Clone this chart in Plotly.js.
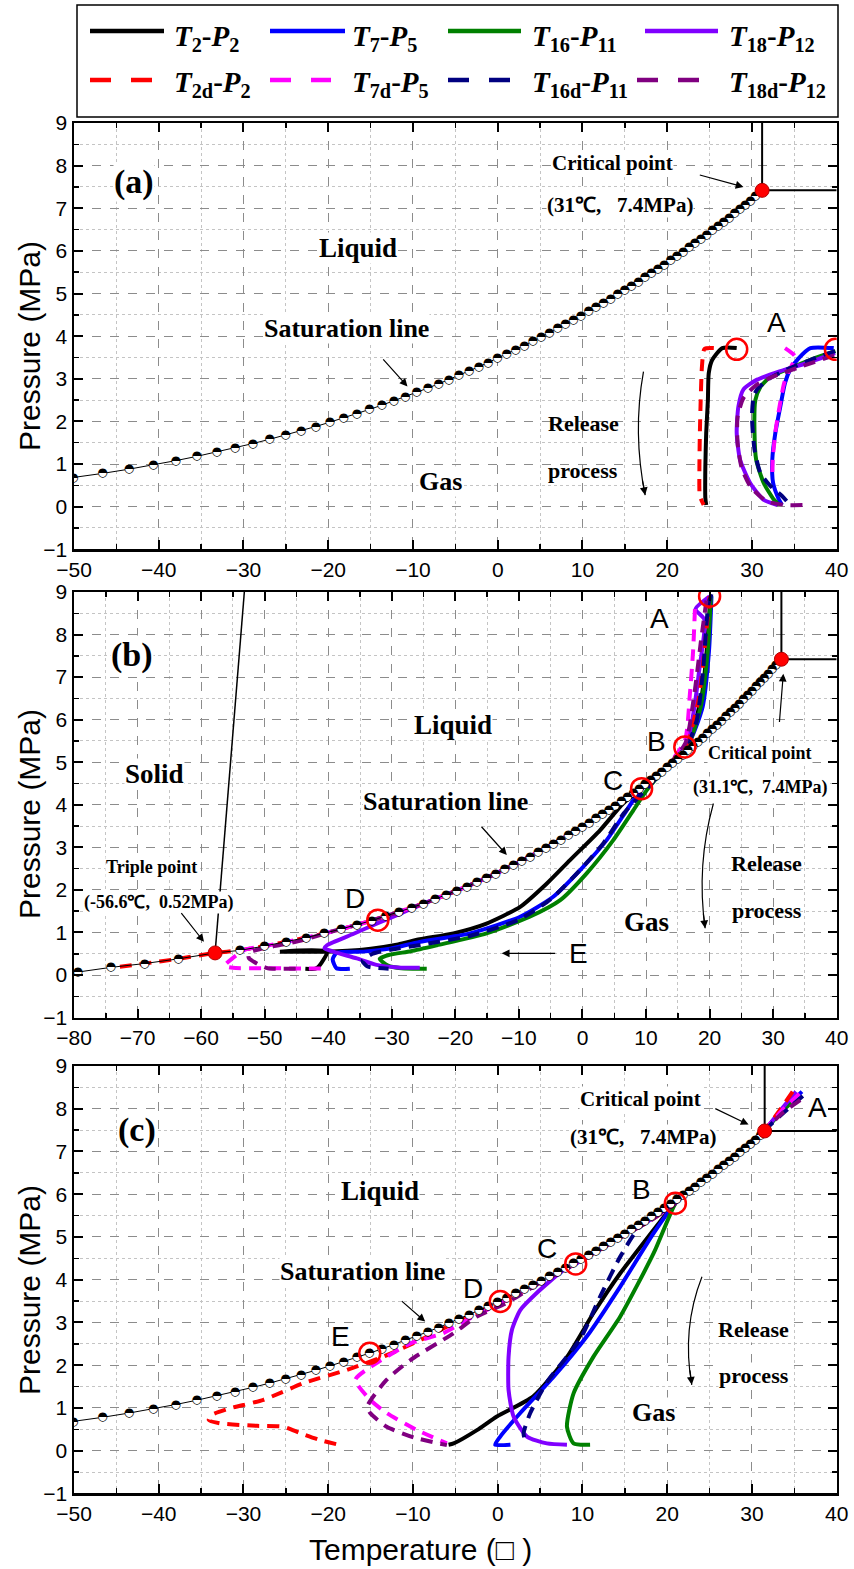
<!DOCTYPE html>
<html><head><meta charset="utf-8">
<script src="https://cdn.plot.ly/plotly-3.0.1.min.js"></script>
<style>html,body{margin:0;padding:0;background:#fff}#chart{width:854px;height:1569px}</style>
</head><body><div id="chart"></div>
<script>
// ---------------- DATA ----------------
const seriesNames = ['T2-P2','T7-P5','T16-P11','T18-P12','T2d-P2','T7d-P5','T16d-P11','T18d-P12'];
const seriesLabels = [
 '<b><i>T</i><sub>2</sub>-<i>P</i><sub>2</sub></b>',
 '<b><i>T</i><sub>7</sub>-<i>P</i><sub>5</sub></b>',
 '<b><i>T</i><sub>16</sub>-<i>P</i><sub>11</sub></b>',
 '<b><i>T</i><sub>18</sub>-<i>P</i><sub>12</sub></b>',
 '<b><i>T</i><sub>2d</sub>-<i>P</i><sub>2</sub></b>',
 '<b><i>T</i><sub>7d</sub>-<i>P</i><sub>5</sub></b>',
 '<b><i>T</i><sub>16d</sub>-<i>P</i><sub>11</sub></b>',
 '<b><i>T</i><sub>18d</sub>-<i>P</i><sub>12</sub></b>'];
const seriesColors = ['#000000','#0000ff','#008000','#8000ff','#ff0000','#ff00ff','#000080','#800080'];
const seriesDashed = [false,false,false,false,true,true,true,true];

// saturation line (markers every 0.1 MPa)
const satP = [0.58,0.68,0.78,0.88,0.98,1.08,1.18,1.28,1.38,1.48,1.58,1.68,1.78,1.88,1.98,2.08,2.18,2.28,2.38,2.48,2.58,2.68,2.78,2.88,2.98,3.08,3.18,3.28,3.38,3.48,3.58,3.68,3.78,3.88,3.98,4.08,4.18,4.28,4.38,4.48,4.58,4.68,4.78,4.88,4.98,5.08,5.18,5.28,5.38,5.48,5.58,5.68,5.78,5.88,5.98,6.08,6.18,6.28,6.38,6.48,6.58,6.68,6.78,6.88,6.98,7.08,7.18,7.28,7.38];
const satT = [-53.91,-50.08,-46.63,-43.51,-40.65,-37.98,-35.51,-33.17,-30.99,-28.91,-26.92,-25.05,-23.21,-21.48,-19.83,-18.20,-16.65,-15.15,-13.68,-12.27,-10.91,-9.58,-8.27,-7.00,-5.78,-4.59,-3.40,-2.25,-1.14,-0.06,1.03,2.09,3.12,4.13,5.10,6.09,7.05,7.98,8.90,9.80,10.70,11.58,12.45,13.30,14.13,14.95,15.76,16.57,17.35,18.13,18.89,19.63,20.38,21.12,21.85,22.56,23.26,23.95,24.63,25.31,25.98,26.64,27.29,27.93,28.57,29.19,29.80,30.40,31.0];
// sublimation line (panel b)
const subT = [-79.4,-74.2,-68.9,-63.6];
const subP = [0.07,0.18,0.27,0.38];
// triple point & melting line (panel b)
const tripleT = -57.8, tripleP = 0.52;
const meltT = [-57.8,-53.2];
const meltP = [0.52,9.0];
// critical points as drawn in each panel
const critA = [31.2,7.42], critB = [31.3,7.42], critC = [31.5,7.48];

// red circles
const circA_T = [28.2,39.85], circA_P = [3.69,3.69];
const circB_T = [20.0,16.1,9.3,-32.2], circB_P = [8.9,5.36,4.38,1.29];
const circC_T = [20.96,9.2,0.3,-15.1], circC_P = [5.79,4.37,3.49,2.28];

// ---- panel (a) ----
const a_T2_x=[28.2,26.5,25.3,24.9,24.8,24.6,24.5,24.5,24.6];
const a_T2_y=[3.72,3.72,3.44,3.13,2.5,1.72,0.94,0.2,0.04];
const a_T7_x=[39.65,36.9,35.5,34.5,33.9,33.35,32.76,32.4,32.5,33.2,33.55];
const a_T7_y=[3.72,3.72,3.48,3.21,2.9,2.35,1.73,1.10,0.55,0.16,0.04];
const a_T16_x=[39.85,37.3,34.9,32.2,31.0,30.4,30.3,30.5,31.4,32.6,33.2];
const a_T16_y=[3.65,3.48,3.28,3.05,2.81,2.5,1.73,1.10,0.55,0.16,0.04];
const a_T18_x=[39.8,36.5,33.35,30.6,29.0,28.4,28.2,28.6,29.8,31.4,33.0];
const a_T18_y=[3.6,3.37,3.18,2.98,2.75,2.35,1.73,1.10,0.55,0.16,0.04];
const a_T2d_x=[25.5,24.4,24.1,23.95,23.85,23.8,23.85,24.3];
const a_T2d_y=[3.72,3.70,3.29,2.5,1.7,0.9,0.25,0.04];
const a_T7d_x=[33.9,35.1,34.4,33.8,33.3,32.8,32.45,32.4];
const a_T7d_y=[3.72,3.52,3.2,2.9,2.4,1.8,1.1,0.7];
const a_T16d_x=[39.8,37.0,34.5,32.0,30.6,30.2,30.0,30.3,31.0,32.2,33.55,34.5];
const a_T16d_y=[3.65,3.45,3.25,3.0,2.75,2.58,2.12,1.34,0.79,0.48,0.25,0.04];
const a_T18d_x=[39.7,36.0,32.5,30.5,29.0,28.3,28.3,28.8,29.9,31.8,34.0,36.7];
const a_T18d_y=[3.55,3.3,3.05,2.85,2.55,2.1,1.5,0.9,0.45,0.12,0.04,0.04];

// ---- panel (b) ----
const b_T2_x=[20.1,19.7,18.8,16.5,13,9.3,6.4,2.76,-1.96,-5.6,-9.8,-15.1,-20.3,-25.6,-29,-33.3,-37,-40.2,-47.6,-40.2,-41.4,-42,-43.6];
const b_T2_y=[8.9,7.9,6.6,5.4,4.85,4.38,4.03,3.40,2.70,2.15,1.60,1.21,0.98,0.84,0.72,0.62,0.57,0.55,0.55,0.55,0.22,0.15,0.15];
const b_T7_x=[20.3,19.9,18.9,16.6,13,9.3,6.95,3.8,-0.4,-4.6,-9.8,-17.7,-25.6,-30.3,-34.5,-38.7,-39.3,-38.7,-36.6];
const b_T7_y=[8.9,7.6,6.3,5.4,4.85,4.38,3.87,3.17,2.46,1.84,1.37,0.98,0.78,0.62,0.55,0.52,0.37,0.16,0.15];
const b_T16_x=[20.2,19.7,18.6,16.6,13,10.1,8.0,4.85,0.66,-3.5,-8.3,-15.1,-22.9,-27,-30.5,-31.9,-30.6,-28.5,-24.5];
const b_T16_y=[8.9,7.6,6.3,5.4,4.85,4.34,3.87,3.17,2.39,1.76,1.37,0.98,0.70,0.56,0.47,0.38,0.22,0.16,0.15];
const b_T18_x=[20.0,17.8,19.2,18.4,17.4,16.3,13,9.3,5,0,-5,-10,-15,-20,-25,-29,-32.2,-36,-40.2,-40.6,-39.2,-35.5,-32.4,-29,-25.6];
const b_T18_y=[8.9,8.6,8.35,7.2,6.1,5.4,4.85,4.38,3.97,3.48,3.05,2.65,2.29,1.97,1.68,1.42,1.22,0.97,0.70,0.63,0.55,0.39,0.24,0.18,0.17];
const b_T2d_x=[20.0,19.3,18.3,16.3,13,9.3,5,0,-5,-10,-15,-20,-25,-30,-35,-40,-45,-50,-54,-57.8,-63.6,-68.9,-74.2];
const b_T2d_y=[8.9,7.8,6.5,5.4,4.85,4.38,3.97,3.48,3.05,2.65,2.29,1.97,1.68,1.43,1.2,1.0,0.83,0.68,0.58,0.52,0.38,0.27,0.17];
const b_T7d_x=[17.7,17.4,16.9,16.1,13,9.3,5,0,-5,-10,-15,-20,-25,-30,-35,-40,-45,-50,-53,-55,-56.3,-55,-50,-45,-40.3];
const b_T7d_y=[8.6,7.6,6.6,5.5,4.85,4.38,3.97,3.48,3.05,2.65,2.29,1.97,1.68,1.43,1.2,1.0,0.83,0.68,0.6,0.4,0.22,0.17,0.16,0.155,0.15];
const b_T16d_x=[20.3,19.8,19.0,18.0,16.5,13,9.6,6.5,3.3,-0.8,-5,-10,-17.5,-25,-30,-33,-34.6,-33.8,-30.5];
const b_T16d_y=[8.95,8.7,7.2,6.0,5.4,4.85,4.3,3.8,3.1,2.4,1.78,1.3,0.93,0.72,0.6,0.5,0.33,0.2,0.15];
const b_T18d_x=[19.5,18.6,17.6,16.2,13,9.3,5,0,-5,-10,-15,-20,-25,-30,-35,-40,-44,-47,-50.5,-52.5,-52.5,-51,-49.5,-44.4];
const b_T18d_y=[8.8,7.8,6.6,5.45,4.85,4.38,3.97,3.48,3.05,2.65,2.29,1.97,1.68,1.43,1.2,1.0,0.82,0.72,0.62,0.52,0.4,0.25,0.16,0.15];

// ---- panel (c) ----
const c_T2_x=[35.3,33.5,31.5,28.6,25.4,22,21,19.97,14.46,11.3,8.2,4.2,-0.1,-2.45,-5.2,-5.8];
const c_T2_y=[8.35,7.95,7.5,7.0,6.5,6.0,5.8,5.56,4.15,3.22,2.2,1.27,0.80,0.48,0.17,0.14];
const c_T7_x=[35.9,33.6,31.5,28.6,25.4,22,21,18.4,14.46,10.5,6.6,2.66,0.3,-0.3,1.5];
const c_T7_y=[8.4,7.97,7.5,7.0,6.5,6.0,5.8,5.09,3.84,2.67,1.73,0.88,0.33,0.14,0.14];
const c_T16_x=[35.5,33.5,31.5,28.6,25.4,22,21,18.4,14.46,11.3,8.95,8.17,8.95,10.9];
const c_T16_y=[8.3,7.93,7.5,7.0,6.5,6.0,5.8,4.62,3.14,2.2,1.34,0.56,0.17,0.14];
const c_T18_x=[35.2,33.4,31.5,28.6,25.4,22,21,18,15,12,9.2,7.8,4.6,2.66,1.67,1.28,1.28,1.87,3.45,5.8,8.17];
const c_T18_y=[8.4,7.97,7.5,7.0,6.5,6.0,5.8,5.4,5.08,4.72,4.37,4.23,3.69,3.29,2.82,2.2,1.42,0.8,0.33,0.17,0.14];
const c_T2d_x=[34.8,33.3,31.5,28.6,25.4,22,21,18,15,10,5,0,-4.8,-9,-13.5,-17.8,-22.9,-27.65,-31.6,-33.7,-34.1,-32.8,-28.4,-25.3,-23.3,-21,-18.6];
const c_T2d_y=[8.4,7.97,7.5,7.0,6.5,6.0,5.8,5.38,5.05,4.47,3.94,3.45,3.02,2.6,2.2,1.89,1.58,1.19,0.99,0.84,0.72,0.64,0.58,0.56,0.41,0.25,0.13];
const c_T7d_x=[35.6,33.5,31.5,28.6,25.4,22,21,18,15,10,5,0.3,-3.6,-6.4,-10.3,-14.3,-16.8,-15.05,-13.1,-9.5,-6.0];
const c_T7d_y=[8.35,7.95,7.5,7.0,6.5,6.0,5.8,5.4,5.07,4.48,3.95,3.45,3.06,2.75,2.51,2.05,1.66,1.19,0.88,0.48,0.17];
const c_T16d_x=[36,33.7,31.5,28.6,25.4,22,21,16.8,14.46,12.1,9.7,5.8,3.84,3.05,3.4];
const c_T16d_y=[8.3,7.9,7.5,7.0,6.5,6.0,5.8,5.25,4.54,3.61,2.6,1.6,0.88,0.4,0.14];
const c_T18d_x=[35.7,33.6,31.5,28.6,25.4,22,21,18,15,10,5,1,-2.45,-5.2,-10.3,-13.1,-15.4,-15.05,-13.1,-9.9,-6.0];
const c_T18d_y=[8.2,7.9,7.5,7.0,6.5,6.0,5.8,5.38,5.05,4.46,3.93,3.45,3.14,2.75,2.12,1.66,1.03,0.88,0.56,0.31,0.13];

const xTicksA = [-50,40], xTicksB = [-80,40], yRange = [-1,9];

// ---------------- BUILD ----------------
const W = 854, H = 1569;
const px = v => v / W, py = v => 1 - v / H;
const SERIF = 'Liberation Serif, Times New Roman, serif';
const SANS = 'Liberation Sans, Arial, sans-serif';

const panelSeries = {
  a: [[a_T2_x,a_T2_y],[a_T7_x,a_T7_y],[a_T16_x,a_T16_y],[a_T18_x,a_T18_y],[a_T2d_x,a_T2d_y],[a_T7d_x,a_T7d_y],[a_T16d_x,a_T16d_y],[a_T18d_x,a_T18d_y]],
  b: [[b_T2_x,b_T2_y],[b_T7_x,b_T7_y],[b_T16_x,b_T16_y],[b_T18_x,b_T18_y],[b_T2d_x,b_T2d_y],[b_T7d_x,b_T7d_y],[b_T16d_x,b_T16d_y],[b_T18d_x,b_T18d_y]],
  c: [[c_T2_x,c_T2_y],[c_T7_x,c_T7_y],[c_T16_x,c_T16_y],[c_T18_x,c_T18_y],[c_T2d_x,c_T2d_y],[c_T7d_x,c_T7d_y],[c_T16d_x,c_T16d_y],[c_T18d_x,c_T18d_y]]
};
const refs = {a:['x','y'], b:['x2','y2'], c:['x3','y3']};
const traces = [];
function satBalls(xs, ys, xr, yr) {
  // white disc underneath, then a half-black "ball" glyph on top
  traces.push({type:'scatter', mode:'markers+text', x:xs, y:ys, xaxis:xr, yaxis:yr,
    marker:{size:8, color:'#ffffff', line:{width:0}},
    text:xs.map(() => '\u25d3'), textposition:'middle center',
    textfont:{family:'DejaVu Sans', size:12, color:'#000'}, hoverinfo:'skip'});
}

['a','b','c'].forEach(p => {
  const [xr, yr] = refs[p];
  panelSeries[p].forEach((s, i) => {
    traces.push({type:'scatter', mode:'lines', x:s[0], y:s[1], xaxis:xr, yaxis:yr, name:seriesNames[i],
      line:{color:seriesColors[i], width:4, shape:'spline', smoothing:0.6, dash: seriesDashed[i] ? '12px,8px' : 'solid'},
      hoverinfo:'skip'});
  });
  const crit = p==='a'?critA:(p==='b'?critB:critC);
  const xmax = (p==='b'?xTicksB:xTicksA)[1];
  traces.push({type:'scatter', mode:'lines', x:[crit[0],crit[0],xmax], y:[yRange[1],crit[1],crit[1]], xaxis:xr, yaxis:yr,
    line:{color:'#000', width:2}, hoverinfo:'skip'});
  if (p==='b') {
    traces.push({type:'scatter', mode:'lines', x:meltT, y:meltP, xaxis:xr, yaxis:yr, line:{color:'#000', width:1.5}, hoverinfo:'skip'});
    traces.push({type:'scatter', mode:'lines', x:subT.concat([tripleT], satT), y:subP.concat([tripleP], satP), xaxis:xr, yaxis:yr, line:{color:'#000', width:1}, hoverinfo:'skip'});
    satBalls(subT.concat(satT), subP.concat(satP), xr, yr);
  } else {
    traces.push({type:'scatter', mode:'lines', x:satT, y:satP, xaxis:xr, yaxis:yr, line:{color:'#000', width:1}, hoverinfo:'skip'});
    satBalls(satT, satP, xr, yr);
  }
  const dotsX = p==='b' ? [crit[0], tripleT] : [crit[0]];
  const dotsY = p==='b' ? [crit[1], tripleP] : [crit[1]];
  traces.push({type:'scatter', mode:'markers', x:dotsX, y:dotsY, xaxis:xr, yaxis:yr,
    marker:{size:14, color:'#ff0000', line:{color:'#b00000', width:1}}, hoverinfo:'skip'});
  const cx = p==='a'?circA_T:(p==='b'?circB_T:circC_T);
  const cy = p==='a'?circA_P:(p==='b'?circB_P:circC_P);
  traces.push({type:'scatter', mode:'markers', x:cx, y:cy, xaxis:xr, yaxis:yr,
    marker:{symbol:'circle-open', size:21, color:'#ff0000', line:{width:2.5, color:'#ff0000'}}, hoverinfo:'skip'});
});

function xaxis(range, anchor, dom) {
  return {domain:dom, range:range, anchor:anchor, dtick:10, tick0:0, ticks:'inside', ticklen:9, tickwidth:2, tickcolor:'#000',
    mirror:'allticks', showline:true, linewidth:2.5, linecolor:'#000', showgrid:true, gridcolor:'#8c8c8c', griddash:'dash', gridwidth:1,
    zeroline:false, tickfont:{family:SANS, size:21, color:'#000'},
    minor:{dtick:5, ticks:'inside', ticklen:5, tickwidth:1.5, tickcolor:'#000', showgrid:true, gridcolor:'#c4c4c4', griddash:'dot', gridwidth:1}};
}
function yaxis(anchor, dom) {
  return {domain:dom, range:yRange, anchor:anchor, dtick:1, tick0:0, ticks:'inside', ticklen:9, tickwidth:2, tickcolor:'#000',
    mirror:'allticks', showline:true, linewidth:2.5, linecolor:'#000', showgrid:true, gridcolor:'#8c8c8c', griddash:'dash', gridwidth:1,
    zeroline:false, tickfont:{family:SANS, size:21, color:'#000'},
    minor:{dtick:0.5, ticks:'inside', ticklen:5, tickwidth:1.5, tickcolor:'#000', showgrid:true, gridcolor:'#c4c4c4', griddash:'dot', gridwidth:1}};
}
const XD = [px(74), px(836.7)];
const DA = [py(549.3), py(123)], DB = [py(1017.6), py(592)], DC = [py(1493.4), py(1066)];

const annotations = [];
const shapes = [];
function note(xr, yr, x, y, text, size, fam, extra) {
  annotations.push(Object.assign({xref:xr, yref:yr, x:x, y:y, text:text, showarrow:false,
    font:{family:fam, size:size, color:'#000'}, xanchor:'center', yanchor:'middle'}, extra||{}));
}
function arrow(xr, yr, x, y, ax, ay) {
  annotations.push({xref:xr, yref:yr, axref:xr, ayref:yr, x:x, y:y, ax:ax, ay:ay, text:'', showarrow:true,
    arrowhead:2, arrowsize:1.3, arrowwidth:1.2, arrowcolor:'#000', standoff:0});
}
function curved(xr, yr, p0, c, p2, headDx, headDy) {
  shapes.push({type:'path', xref:xr, yref:yr, path:`M ${p0[0]},${p0[1]} Q ${c[0]},${c[1]} ${p2[0]},${p2[1]}`, line:{color:'#000', width:1.2}});
  annotations.push({xref:xr, yref:yr, x:p2[0], y:p2[1], ax:headDx, ay:headDy, text:'', showarrow:true,
    arrowhead:2, arrowsize:1.3, arrowwidth:1.2, arrowcolor:'#000', standoff:0});
}
const WB = {bgcolor:'#ffffff', borderpad:0};
const NB = '\u00a0';

// panel a
note('x','y',-42.9,7.62,'<b>(a)</b>',34,SERIF,WB);
note('x','y',-16.5,6.07,'<b>Liquid</b>',27,SERIF,WB);
note('x','y',-17.9,4.19,'<b>Saturation line</b>',26,SERIF,WB);
arrow('x','y',-10.65,2.82,-13.67,3.49);
note('x','y',-6.8,0.59,'<b>Gas</b>',26,SERIF,WB);
note('x','y',13.6,8.06,'<b>Critical point</b>',21,SERIF,WB);
note('x','y',14.46,7.08,'<b>(31℃,'+NB+NB+NB+'7.4MPa)</b>',21,SERIF,WB);
arrow('x','y',29.0,7.5,23.67,7.79);
note('x','y',32.9,4.31,'A',28,SANS);
note('x','y',10.1,1.96,'<b>Release</b>',22,SERIF);
note('x','y',10.1,0.86,'<b>process</b>',22,SERIF);
curved('x','y',[17.2,3.17],[15.9,1.74],[17.4,0.27],-3,-16);

// panel b
note('x2','y2',-70.9,7.51,'<b>(b)</b>',34,SERIF,WB);
note('x2','y2',-20.3,5.87,'<b>Liquid</b>',27,SERIF,WB);
note('x2','y2',-67.3,4.73,'<b>Solid</b>',27,SERIF,WB);
note('x2','y2',-21.6,4.07,'<b>Saturation line</b>',26,SERIF,WB);
arrow('x2','y2',-11.9,2.82,-16.1,3.52);
note('x2','y2',-67.8,2.54,'<b>Triple point</b>',18,SERIF,WB);
note('x2','y2',-66.7,1.70,'<b>(-56.6℃,'+NB+NB+'0.52MPa)</b>',18,SERIF,WB);
arrow('x2','y2',-59.55,0.78,-63.3,1.49);
note('x2','y2',10.1,1.25,'<b>Gas</b>',27,SERIF,WB);
note('x2','y2',27.9,5.22,'<b>Critical point</b>',18,SERIF,WB);
note('x2','y2',27.9,4.41,'<b>(31.1℃,'+NB+NB+'7.4MPa)</b>',18,SERIF,WB);
arrow('x2','y2',31.6,7.08,30.97,5.91);
note('x2','y2',29.0,2.61,'<b>Release</b>',22,SERIF);
note('x2','y2',29.0,1.51,'<b>process</b>',22,SERIF);
curved('x2','y2',[20.6,4.03],[17.9,2.58],[19.3,1.10],-2,-16);
note('x2','y2',12.1,8.37,'A',28,SANS);
note('x2','y2',11.57,5.48,'B',28,SANS);
note('x2','y2',4.76,4.56,'C',28,SANS);
note('x2','y2',-35.8,1.80,'D',28,SANS);
note('x2','y2',-0.66,0.51,'E',28,SANS);
arrow('x2','y2',-12.7,0.51,-4.06,0.51);

// panel c
note('x3','y3',-42.6,7.51,'<b>(c)</b>',34,SERIF,WB);
note('x3','y3',-13.9,6.07,'<b>Liquid</b>',27,SERIF,WB);
note('x3','y3',-16.0,4.19,'<b>Saturation line</b>',26,SERIF,WB);
arrow('x3','y3',-8.56,3.02,-11.5,3.53);
note('x3','y3',16.8,8.23,'<b>Critical point</b>',21,SERIF,WB);
note('x3','y3',17.1,7.35,'<b>(31℃,'+NB+NB+NB+'7.4MPa)</b>',21,SERIF,WB);
arrow('x3','y3',29.6,7.63,25.5,8.02);
note('x3','y3',30.2,2.84,'<b>Release</b>',22,SERIF,WB);
note('x3','y3',30.2,1.77,'<b>process</b>',22,SERIF,WB);
curved('x3','y3',[24.1,4.07],[21.7,2.85],[22.9,1.54],-2,-16);
note('x3','y3',18.4,0.89,'<b>Gas</b>',26,SERIF,WB);
note('x3','y3',37.76,8.02,'A',28,SANS);
note('x3','y3',17.0,6.11,'B',28,SANS);
note('x3','y3',5.8,4.74,'C',28,SANS);
note('x3','y3',-2.86,3.80,'D',28,SANS);
note('x3','y3',-18.6,2.67,'E',28,SANS);

// axis titles
['346','814','1290'].forEach(v => note('paper','paper',px(29),py(+v),'Pressure (MPa)',30,SANS,{textangle:-90}));
note('paper','paper',px(420),py(1549),'Temperature (\u25a1 )',30,SANS);

// legend (drawn)
shapes.push({type:'rect', xref:'paper', yref:'paper', x0:px(77), x1:px(838), y0:py(117), y1:py(5), line:{color:'#000', width:1.5}, fillcolor:'#ffffff', layer:'below'});
const legLineX = [[90,164],[270,345],[448,521],[645,718]];
const legLineXd = [[90,153],[270,331],[448,511],[637,699]];
const legTextX = [172,350,530,727];
const legRowY = [31,80];
const legTextY = [38,84];
seriesNames.forEach((n, i) => {
  const row = i < 4 ? 0 : 1, col = i % 4;
  const lx = seriesDashed[i] ? legLineXd[col] : legLineX[col];
  shapes.push({type:'line', xref:'paper', yref:'paper', x0:px(lx[0]), x1:px(lx[1]), y0:py(legRowY[row]), y1:py(legRowY[row]),
    line:{color:seriesColors[i], width:4.5, dash: seriesDashed[i] ? '21px,20px' : 'solid'}});
  note('paper','paper',px(legTextX[col]),py(legTextY[row]),seriesLabels[i],29,SERIF,{xanchor:'left'});
});

const layout = {
  width:W, height:H, margin:{l:0,r:0,t:0,b:0}, showlegend:false,
  paper_bgcolor:'#ffffff', plot_bgcolor:'#ffffff',
  xaxis: xaxis(xTicksA,'y',XD), yaxis: yaxis('x',DA),
  xaxis2: xaxis(xTicksB,'y2',XD), yaxis2: yaxis('x2',DB),
  xaxis3: xaxis(xTicksA,'y3',XD), yaxis3: yaxis('x3',DC),
  annotations: annotations, shapes: shapes
};
Plotly.newPlot('chart', traces, layout, {staticPlot:true});
</script></body></html>
